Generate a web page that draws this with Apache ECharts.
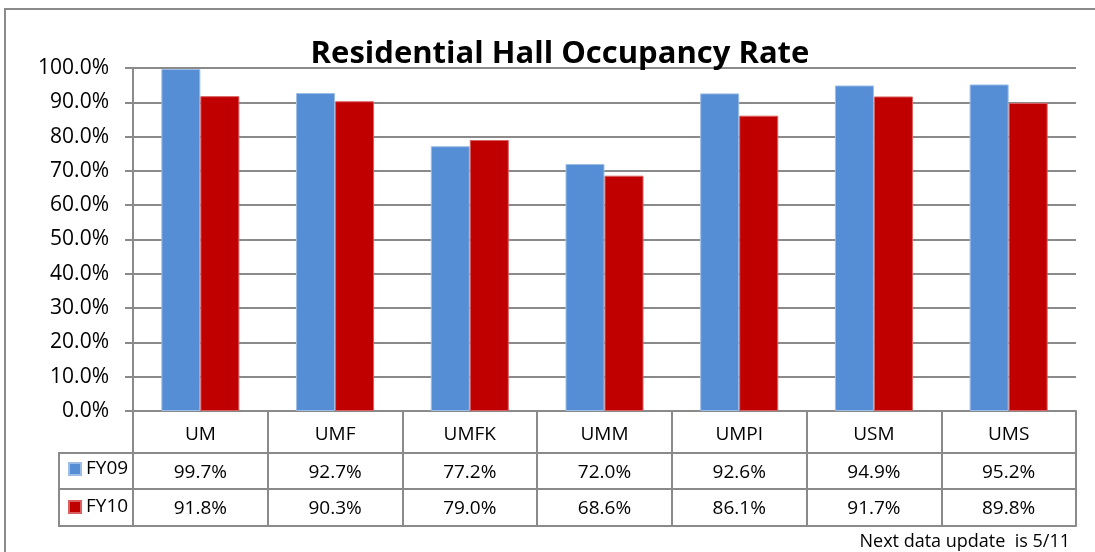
<!DOCTYPE html>
<html>
<head>
<meta charset="utf-8">
<script src="https://cdn.jsdelivr.net/npm/echarts@6/dist/echarts.min.js"></script>
<style>
  html, body { margin: 0; padding: 0; background: #fff; }
  #main { width: 1095px; height: 552px; }
</style>
</head>
<body>
<div id="main"></div>
<script>
// campuses and occupancy rates (%)
var campusList = ['UM', 'UMF', 'UMFK', 'UMM', 'UMPI', 'USM', 'UMS'];
var fy09List = [99.7, 92.7, 77.2, 72.0, 92.6, 94.9, 95.2];
var fy10List = [91.8, 90.3, 79.0, 68.6, 86.1, 91.7, 89.8];
var seriesNames = ['FY09', 'FY10'];
var colorList = ['#558ED5', '#C00000'];

var font = '"Open Sans", "Liberation Sans", sans-serif';
var gray = '#8a8a8a';

var chart = echarts.init(document.getElementById('main'));

function pct(v) {
  return v.toFixed(1) + '%';
}

// extra x axes used as the rows of the data table
function tableRow(offset, values) {
  return {
    type: 'category',
    gridIndex: 0,
    position: 'bottom',
    offset: offset,
    data: campusList,
    axisLine: { show: true, lineStyle: { color: gray, width: 2 } },
    axisTick: { show: false },
    axisLabel: {
      show: !!values,
      margin: 10,
      color: '#000',
      fontFamily: font,
      fontSize: 19,
      formatter: function (v, i) { return values ? pct(values[i]) : ''; }
    }
  };
}

function legendRow(name, top) {
  return {
    left: 68,
    top: top,
    padding: 0,
    itemWidth: 12,
    itemHeight: 12,
    icon: 'rect',
    data: [name],
    textStyle: { fontFamily: font, fontSize: 19, lineHeight: 20, color: '#000' }
  };
}

var option = {
  backgroundColor: '#fff',
  animation: false,
  color: colorList,
  title: {
    text: 'Residential Hall Occupancy Rate',
    left: 555,
    top: 34,
    textAlign: 'center',
    textStyle: { fontFamily: font, fontWeight: 'bold', fontSize: 31, color: '#000' }
  },
  legend: [
    legendRow(seriesNames[0], 459),
    legendRow(seriesNames[1], 497)
  ],
  grid: { left: 133, right: 19, top: 68, bottom: 141, containLabel: false },
  xAxis: [
    {
      type: 'category',
      data: campusList,
      axisLine: { show: true, lineStyle: { color: gray, width: 2 } },
      axisTick: { show: true, length: 115, lineStyle: { color: gray, width: 2 } },
      axisLabel: { margin: 14, color: '#000', fontFamily: font, fontSize: 19 }
    },
    tableRow(42, fy09List),
    tableRow(78, fy10List),
    tableRow(115, null)
  ],
  yAxis: {
    type: 'value',
    min: 0,
    max: 100,
    interval: 10,
    axisLine: { show: true, lineStyle: { color: gray, width: 2 } },
    axisTick: { show: true, length: 8, lineStyle: { color: gray, width: 2 } },
    splitLine: { lineStyle: { color: gray, width: 2 } },
    axisLabel: {
      margin: 24,
      color: '#000',
      fontFamily: font,
      fontSize: 21,
      formatter: function (v) { return pct(v); }
    }
  },
  series: [
    {
      name: seriesNames[0],
      type: 'bar',
      data: fy09List,
      barWidth: 39,
      barGap: '0%',
      itemStyle: { borderColor: '#9dbde6', borderWidth: 1 }
    },
    {
      name: seriesNames[1],
      type: 'bar',
      data: fy10List,
      barWidth: 39,
      barGap: '0%',
      itemStyle: { borderColor: '#d96060', borderWidth: 1 }
    }
  ],
  graphic: [
    // outer chart frame
    {
      type: 'rect',
      shape: { x: 5, y: 9, width: 1200, height: 700 },
      style: { fill: 'none', stroke: gray, lineWidth: 2 },
      silent: true
    },
    // legend column of the data table
    {
      type: 'polyline',
      shape: { points: [[133, 453], [59, 453], [59, 526], [133, 526]] },
      style: { fill: 'none', stroke: gray, lineWidth: 2 },
      silent: true
    },
    {
      type: 'line',
      shape: { x1: 59, y1: 489, x2: 133, y2: 489 },
      style: { stroke: gray, lineWidth: 2 },
      silent: true
    },
    {
      type: 'text',
      right: 25,
      top: 533,
      style: { text: 'Next data update  is 5/11', fontFamily: font, fontSize: 18, fill: '#000' }
    }
  ]
};

chart.setOption(option);
</script>
</body>
</html>
